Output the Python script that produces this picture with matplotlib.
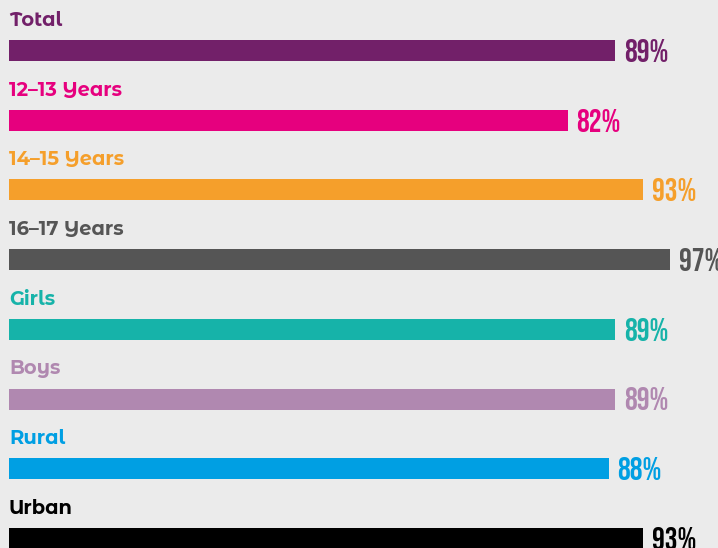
import matplotlib
matplotlib.use("Agg")
import matplotlib.pyplot as plt

# data
categories = ["Total", "12–13 Years", "14–15 Years", "16–17 Years",
              "Girls", "Boys", "Rural", "Urban"]
values = [89, 82, 93, 97, 89, 89, 88, 93]
colors = ["#722069", "#e6007e", "#f59f2b", "#555555",
          "#16b3a9", "#b088b0", "#009fe3", "#000000"]

W, H = 718, 548
bg = "#ebebeb"
row_px = 69.7          # distance between bars
first_px = 50.5        # centre of first bar from top

fig = plt.figure(figsize=(W / 100, H / 100), dpi=100, facecolor=bg)
ax = fig.add_axes([9 / W, 0, 681.4 / W, 1])
ax.set_facecolor(bg)

ys = list(range(len(categories)))
ax.barh(ys, values, height=21 / row_px, color=colors, left=0)

for y, cat, v, c in zip(ys, categories, values, colors):
    ax.text(0, y - 24.5 / row_px, cat, color=c, fontsize=14, fontweight="bold",
            family=["Montserrat Alternates", "DejaVu Sans"], va="baseline",
            ha="left", clip_on=False)
    ax.text(v + 1.3, y + 11.5 / row_px, f"{v}%", color=c, fontsize=23,
            family=["Bebas Neue", "DejaVu Sans"],
            va="baseline", ha="left", clip_on=False)

ax.set_xlim(0, 100)
ax.set_ylim((H - first_px) / row_px, -first_px / row_px)
ax.axis("off")

fig.savefig("out.png", dpi=100, facecolor=bg)
